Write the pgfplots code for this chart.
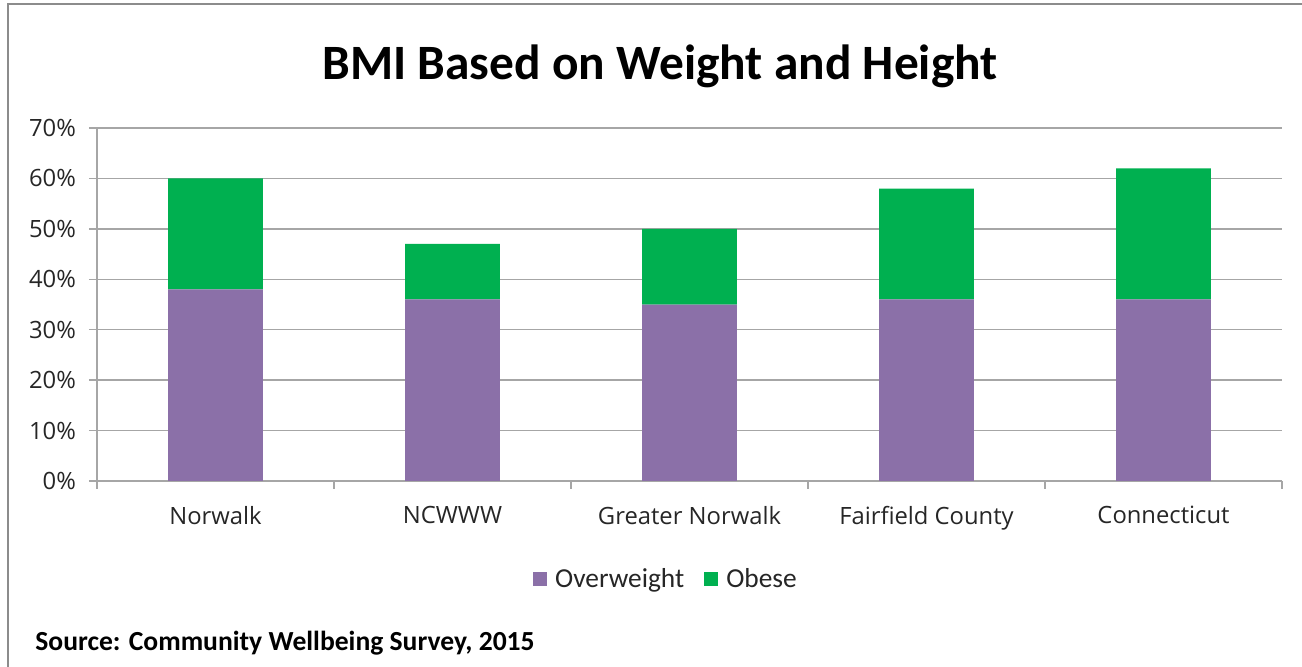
\documentclass[border=0pt]{standalone}
\usepackage{fontspec}
\setmainfont{Carlito}
\newfontfamily\osans{Open Sans}
\usepackage{pgfplots}
\pgfplotsset{compat=1.18}
\definecolor{overw}{HTML}{8B70A8}
\definecolor{obese}{HTML}{00B050}
\definecolor{gridc}{HTML}{A6A6A6}
\definecolor{framec}{HTML}{8C8C8C}
\definecolor{txt}{HTML}{262626}
\begin{document}
\begin{tikzpicture}
\useasboundingbox (0,0) rectangle (651pt,-333.5pt);
\draw[framec, line width=1pt] (4pt,-333.5pt) -- (4pt,-2pt) -- (651pt,-2pt);
\node[font=\fontsize{24.7}{29}\selectfont\bfseries] at (330pt,-33pt) {BMI Based on Weight and Height};
\begin{axis}[
    at={(48.5pt,-240.5pt)}, anchor=south west,
    scale only axis, width=592.5pt, height=176.5pt,
    ybar stacked, bar width=0.4,
    xmin=-0.5, xmax=4.5, ymin=0, ymax=70,
    xtick={0,1,2,3,4},
    xticklabels={Norwalk, NCWWW, Greater Norwalk, Fairfield County, Connecticut},
    minor xtick={-0.5,0.5,1.5,2.5,3.5,4.5},
    ytick={0,10,...,70},
    yticklabel={\pgfmathprintnumber{\tick}\%},
    /pgf/number format/assume math mode=true,
    ticklabel style={font=\osans\fontsize{11.9}{14}\selectfont, text=txt},
    xticklabel style={yshift=-5pt},
    yticklabel style={xshift=-3pt},
    axis lines*=left,
    axis line style={gridc, line width=0.7pt},
    ymajorgrids, grid style={gridc, line width=0.7pt},
    tick align=outside, major tick length=4pt, minor tick length=4pt,
    xtick style={draw=none}, minor x tick style={draw=gridc, line width=0.7pt},
    ytick style={draw=gridc, line width=0.7pt},
    legend style={at={(0.481,-0.278)}, anchor=center, draw=none, legend columns=2,
        font=\fontsize{13.7}{16}\selectfont, text=txt,
        /tikz/every odd column/.append style={column sep=2pt},
        /tikz/every even column/.append style={column sep=8pt}},
    legend image code/.code={\fill[#1] (0pt,-3.5pt) rectangle (7pt,3.5pt);},
]
\addplot[fill=overw, draw=none] coordinates {(0,38) (1,36) (2,35) (3,36) (4,36)};
\addplot[fill=obese, draw=none] coordinates {(0,22) (1,11) (2,15) (3,22) (4,26)};
\legend{Overweight, Obese}
\end{axis}
\node[font=\fontsize{13.8}{16}\selectfont\bfseries, anchor=west, inner sep=0pt] at (17.5pt,-321.5pt) {Source: Community Wellbeing Survey, 2015};
\end{tikzpicture}
\end{document}
